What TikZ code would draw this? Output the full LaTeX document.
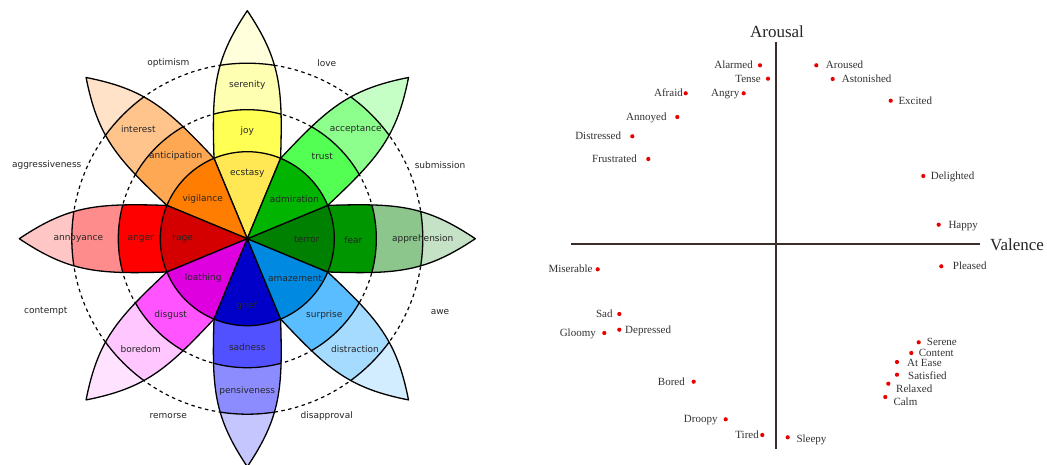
\documentclass[tikz,border=0pt]{standalone}
\usepackage{fontspec}
\setmainfont{Liberation Serif}
\newfontfamily\wheelfont{DejaVu Sans}

% petal colours: inner (1), middle (2), outer (3), tip (4)
\definecolor{joyA}{HTML}{FFE854}\definecolor{joyB}{HTML}{FFFF54}\definecolor{joyC}{HTML}{FFFFB1}\definecolor{joyD}{HTML}{FFFFDC}
\definecolor{antA}{HTML}{FF7D00}\definecolor{antB}{HTML}{FFA854}\definecolor{antC}{HTML}{FFC48C}\definecolor{antD}{HTML}{FFE2C8}
\definecolor{angA}{HTML}{D40000}\definecolor{angB}{HTML}{FF0000}\definecolor{angC}{HTML}{FF8C8C}\definecolor{angD}{HTML}{FFC6C6}
\definecolor{disA}{HTML}{DE00DE}\definecolor{disB}{HTML}{FF54FF}\definecolor{disC}{HTML}{FFC6FF}\definecolor{disD}{HTML}{FFE2FF}
\definecolor{sadA}{HTML}{0000C8}\definecolor{sadB}{HTML}{5151FF}\definecolor{sadC}{HTML}{8C8CFF}\definecolor{sadD}{HTML}{C6C6FF}
\definecolor{surA}{HTML}{0089E0}\definecolor{surB}{HTML}{59BDFF}\definecolor{surC}{HTML}{A5DBFF}\definecolor{surD}{HTML}{D2EDFF}
\definecolor{feaA}{HTML}{008000}\definecolor{feaB}{HTML}{009600}\definecolor{feaC}{HTML}{8CC68C}\definecolor{feaD}{HTML}{C6E2C6}
\definecolor{truA}{HTML}{00B400}\definecolor{truB}{HTML}{54FF54}\definecolor{truC}{HTML}{8CFF8C}\definecolor{truD}{HTML}{C6FFC6}
\definecolor{axiscol}{RGB}{60,45,45}
\definecolor{dotred}{HTML}{E80000}

% one petal, axis along +x before rotation
\def\petalpath{(0,0) -- (80.38,-33.29) .. controls (150,-35.5) and (178,-33.5) .. (228,0)
  .. controls (178,33.5) and (150,35.5) .. (80.38,33.29) -- cycle}

\newcommand\petal[5]{%
  \begin{scope}[rotate=#1]
    \begin{scope}
      \clip \petalpath;
      \fill[#5] (0,0) circle (235);
      \fill[#4] (0,0) circle (175.5);
      \fill[#3] (0,0) circle (129);
      \fill[#2] (0,0) circle (87);
      \draw[bandline] (0,0) circle (87) (0,0) circle (129) (0,0) circle (175.5);
    \end{scope}
    \draw[petaledge] \petalpath;
  \end{scope}}

% one point of the valence/arousal plot with its label
\newcommand\emo[7]{%
  \node[pdot] (#1) at (#2,#3) {};
  \node[plabel, anchor=base #4] (#1-l) at (#5,#6+3.6) {#7};}

\begin{document}
\begin{tikzpicture}[x=1pt,y=-1pt,
  petaledge/.style={line width=1.3pt, draw=black, line join=round},
  bandline/.style={line width=1.3pt, draw=black},
  ring/.style={line width=1.2pt, draw=black, dash pattern=on 3.5pt off 3.5pt},
  wlabel/.style={font=\wheelfont\fontsize{9}{10}\selectfont, text=black!85, inner sep=0pt},
  pdot/.style={circle, fill=dotred, inner sep=0pt, minimum size=4.2pt},
  plabel/.style={font=\fontsize{11}{12}\selectfont, text=black!80, inner sep=0pt},
  axisline/.style={line width=1.8pt, draw=axiscol},
  axistitle/.style={font=\fontsize{17}{18}\selectfont, text=black!85, inner sep=0pt}]

\fill[white] (0,0) rectangle (1047,465);
\useasboundingbox (0,0) rectangle (1047,465);

% ---------------- wheel of emotions ----------------
\begin{scope}[shift={(247.3,238.7)}]
  \coordinate (hub) at (0,0);
  \draw[ring] (hub) circle (129);
  \draw[ring] (hub) circle (175.5);
  \petal{90}{joyA}{joyB}{joyC}{joyD}
  \petal{135}{antA}{antB}{antC}{antD}
  \petal{180}{angA}{angB}{angC}{angD}
  \petal{225}{disA}{disB}{disC}{disD}
  \petal{270}{sadA}{sadB}{sadC}{sadD}
  \petal{315}{surA}{surB}{surC}{surD}
  \petal{0}{feaA}{feaB}{feaC}{feaD}
  \petal{45}{truA}{truB}{truC}{truD}
  \fill (hub) circle (1.3);
\end{scope}

% dyads between the petals
\node[wlabel] (optimism) at (168.3,62.7) {optimism};
\node[wlabel] (love) at (326.7,62.7) {love};
\node[wlabel] (aggressiveness) at (46.7,165) {aggressiveness};
\node[wlabel] (submission) at (440,165) {submission};
\node[wlabel] (contempt) at (45.7,311.7) {contempt};
\node[wlabel] (awe) at (440,311.7) {awe};
\node[wlabel] (remorse) at (168.3,416) {remorse};
\node[wlabel] (disapproval) at (326.7,416) {disapproval};

% petal labels
\node[wlabel] (serenity) at (247.3,85) {serenity};
\node[wlabel] (joy) at (247.3,131) {joy};
\node[wlabel] (ecstasy) at (247.3,173.3) {ecstasy};
\node[wlabel] (interest) at (138.3,129) {interest};
\node[wlabel] (anticipation) at (175.7,156) {anticipation};
\node[wlabel] (vigilance) at (202.7,199.3) {vigilance};
\node[wlabel] (acceptance) at (355.7,129) {acceptance};
\node[wlabel] (trust) at (322.3,156) {trust};
\node[wlabel] (admiration) at (294.3,199.3) {admiration};
\node[wlabel] (annoyance) at (78.3,238.7) {annoyance};
\node[wlabel] (anger) at (140.7,238.7) {anger};
\node[wlabel] (rage) at (182.7,238.7) {rage};
\node[wlabel] (terror) at (306.7,239.3) {terror};
\node[wlabel] (fear) at (353.3,240) {fear};
\node[wlabel] (apprehension) at (422.7,238.7) {apprehension};
\node[wlabel] (loathing) at (203.3,278) {loathing};
\node[wlabel] (disgust) at (170.7,314.7) {disgust};
\node[wlabel] (boredom) at (140.7,349.3) {boredom};
\node[wlabel] (amazement) at (295,278) {amazement};
\node[wlabel] (surprise) at (324.3,314.7) {surprise};
\node[wlabel] (distraction) at (355,349.3) {distraction};
\node[wlabel] (grief) at (246.7,306) {grief};
\node[wlabel] (sadness) at (247.3,346.7) {sadness};
\node[wlabel] (pensiveness) at (247.3,390.7) {pensiveness};

% ---------------- valence / arousal plane ----------------
\coordinate (vtop) at (776,42);
\coordinate (vbot) at (776,449);
\coordinate (hleft) at (571,244);
\coordinate (hright) at (980,244);
\draw[axisline] (vtop) -- (vbot);
\draw[axisline] (hleft) -- (hright);
\node[axistitle] (arousal) at (777,32) {Arousal};
\node[axistitle, anchor=west] (valence) at (990,244.5) {Valence};

\emo{alarmed}{760}{65.3}{east}{753}{65.3}{Alarmed}
\emo{tense}{768}{78.7}{east}{761}{78.7}{Tense}
\emo{angry}{743.7}{93.3}{east}{739.5}{93}{Angry}
\emo{afraid}{685.7}{93.3}{east}{683}{93}{Afraid}
\emo{annoyed}{677.3}{117}{east}{666.7}{117}{Annoyed}
\emo{distressed}{632.3}{136.3}{east}{621.3}{136}{Distressed}
\emo{frustrated}{648.3}{159}{east}{637}{158.7}{Frustrated}
\emo{aroused}{816.3}{65.3}{west}{825.7}{65.3}{Aroused}
\emo{astonished}{832.7}{79}{west}{841.7}{79}{Astonished}
\emo{excited}{890.7}{100.7}{west}{898.3}{100.7}{Excited}
\emo{delighted}{923.3}{176}{west}{930.7}{176}{Delighted}
\emo{happy}{938.7}{224.7}{west}{948.3}{224.7}{Happy}
\emo{miserable}{597.7}{269.3}{east}{592.7}{269.3}{Miserable}
\emo{sad}{619.3}{314}{east}{612.7}{314}{Sad}
\emo{gloomy}{604.3}{333}{east}{596}{333}{Gloomy}
\emo{depressed}{619.3}{329.7}{west}{625}{329.7}{Depressed}
\emo{bored}{693.7}{381.7}{east}{685}{381.7}{Bored}
\emo{droopy}{725.7}{419.3}{east}{717.7}{419.3}{Droopy}
\emo{tired}{762.3}{435}{east}{759}{435}{Tired}
\emo{sleepy}{787.7}{437.3}{west}{796.3}{439}{Sleepy}
\emo{pleased}{941.3}{266.3}{west}{952.7}{266.3}{Pleased}
\emo{serene}{918.7}{342.3}{west}{926.7}{342}{Serene}
\emo{content}{911.3}{353}{west}{918.7}{352.7}{Content}
\emo{atease}{897}{362}{west}{907}{363.3}{At Ease}
\emo{satisfied}{897}{374.7}{west}{908}{375.7}{Satisfied}
\emo{relaxed}{888.3}{383.7}{west}{896}{389}{Relaxed}
\emo{calm}{885.3}{397}{west}{893.3}{402.3}{Calm}

\end{tikzpicture}
\end{document}
